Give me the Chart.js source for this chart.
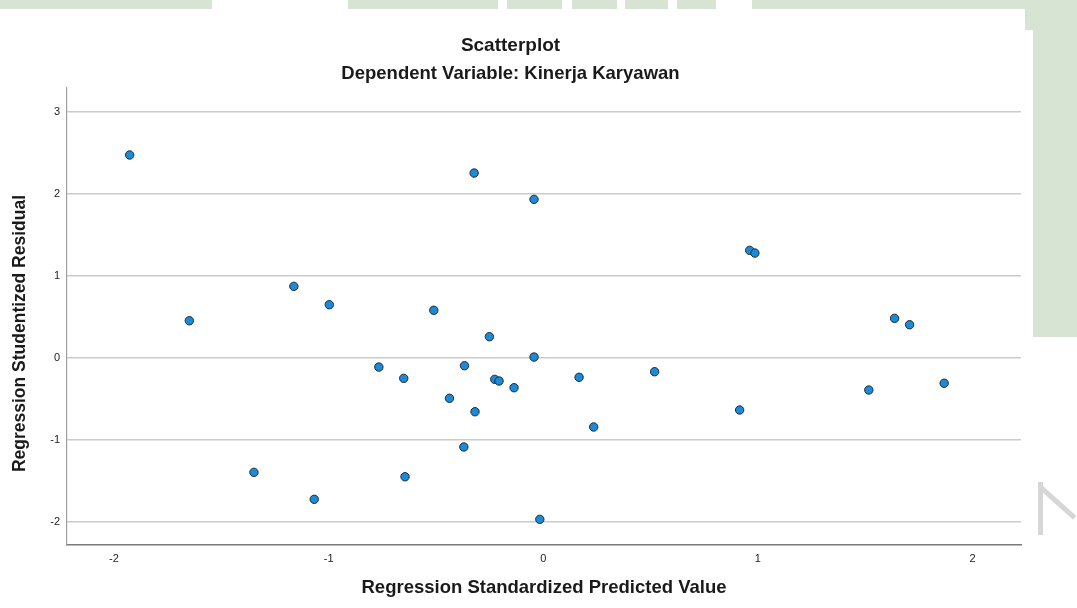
<!DOCTYPE html>
<html>
<head>
<meta charset="utf-8">
<script src="https://cdn.jsdelivr.net/npm/chart.js@4.4.0/dist/chart.umd.min.js"></script>
<style>
  html, body { margin: 0; padding: 0; background: #ffffff; }
  #wrap { position: relative; width: 1077px; height: 608px; overflow: hidden; background: #ffffff; }
  .wm { position: absolute; background: #d7e3d3; }
  .wmg { position: absolute; background: #d6d6d6; }
  canvas { position: absolute; left: 0; top: 0; }
</style>
</head>
<body>
<div id="wrap">
  <div class="wm" style="left:0;top:0;width:212px;height:9px;"></div>
  <div class="wm" style="left:348px;top:0;width:150px;height:9px;"></div>
  <div class="wm" style="left:507px;top:0;width:55px;height:9px;"></div>
  <div class="wm" style="left:572px;top:0;width:45px;height:9px;"></div>
  <div class="wm" style="left:625px;top:0;width:43px;height:9px;"></div>
  <div class="wm" style="left:677px;top:0;width:39px;height:9px;"></div>
  <div class="wm" style="left:752px;top:0;width:290px;height:9px;"></div>
  <div class="wm" style="left:1025px;top:0;width:52px;height:30px;"></div>
  <div class="wm" style="left:1033px;top:0;width:44px;height:337px;"></div>
  <div class="wmg" style="left:1038px;top:482px;width:5px;height:53px;"></div>
  <div class="wmg" style="left:1043px;top:486px;width:45px;height:5px;transform:rotate(42deg);transform-origin:0 0;"></div>
  <canvas id="c" width="1077" height="608"></canvas>
</div>
<script>
// ---- data ----
const predictedValues = [
  -1.927, -1.649, -1.348, -1.162, -1.067, -0.997, -0.766, -0.650,
  -0.644, -0.510, -0.437, -0.367, -0.370, -0.318, -0.322, -0.251,
  -0.226, -0.206, -0.136, -0.043, -0.043, -0.016, 0.167, 0.235,
  0.519, 0.962, 0.986, 0.915, 1.517, 1.637, 1.707, 1.868
];
const studentizedResiduals = [
  2.476, 0.455, -1.394, 0.874, -1.723, 0.650, -0.110, -0.248,
  -1.448, 0.582, -0.491, -0.094, -1.085, -0.655, 2.256, 0.260,
  -0.260, -0.280, -0.362, 1.935, 0.012, -1.967, -0.235, -0.841,
  -0.167, 1.313, 1.280, -0.634, -0.390, 0.484, 0.406, -0.307
];
const xTicks = [-2, -1, 0, 1, 2];
const yTicks = [-2, -1, 0, 1, 2, 3];
const chartTitle = 'Scatterplot';
const chartSubtitle = 'Dependent Variable: Kinerja Karyawan';
const xTitle = 'Regression Standardized Predicted Value';
const yTitle = 'Regression Studentized Residual';

const points = predictedValues.map((x, i) => ({ x: x, y: studentizedResiduals[i] }));
const FONT = 'Arial, "Liberation Sans", sans-serif';

new Chart(document.getElementById('c'), {
  type: 'scatter',
  data: {
    datasets: [{
      data: points,
      pointRadius: 4.2,
      pointHoverRadius: 4.2,
      pointBackgroundColor: '#1b8ad9',
      pointBorderColor: '#1d2a36',
      pointBorderWidth: 1
    }]
  },
  options: {
    responsive: false,
    animation: false,
    events: [],
    layout: { padding: { left: 0, right: 56, top: 0, bottom: 0 } },
    plugins: {
      legend: { display: false },
      tooltip: { enabled: false },
      title: {
        display: true, text: chartTitle, color: '#1a1a1a',
        font: { family: FONT, size: 19, weight: 'bold', lineHeight: 1.2 },
        padding: { top: 34.6, bottom: 0 }
      },
      subtitle: {
        display: true, text: chartSubtitle, color: '#1a1a1a',
        font: { family: FONT, size: 18.5, weight: 'bold', lineHeight: 1.2 },
        padding: { top: 5.5, bottom: 2.9 }
      }
    },
    scales: {
      x: {
        type: 'linear', min: -2.219, max: 2.226,
        afterFit(scale) { scale.height = 63; },
        afterBuildTicks(scale) { scale.ticks = xTicks.map(v => ({ value: v })); },
        grid: { display: false, drawTicks: false },
        border: { display: true, color: '#7a7a7a', width: 1.5 },
        ticks: { color: '#222', padding: 7, font: { family: FONT, size: 11 }, maxRotation: 0 },
        title: {
          display: true, text: xTitle, color: '#1a1a1a',
          font: { family: FONT, size: 18.5, weight: 'bold', lineHeight: 1.2 },
          padding: { top: 0, bottom: 8.9 }
        }
      },
      y: {
        type: 'linear', min: -2.28, max: 3.293,
        afterFit(scale) { scale.width = 67; },
        afterBuildTicks(scale) { scale.ticks = yTicks.map(v => ({ value: v })); },
        grid: { display: true, drawTicks: false, color: '#cbcbcb', lineWidth: 1.6 },
        border: { display: true, color: '#a0a0a0', width: 1.2 },
        ticks: { color: '#222', padding: 7, font: { family: FONT, size: 11 } },
        title: {
          display: true, text: yTitle + '       ', color: '#1a1a1a',
          font: { family: FONT, size: 17.5, weight: 'bold', lineHeight: 1.2 },
          padding: { top: 9.5, bottom: 0 }
        }
      }
    }
  }
});
</script>
</body>
</html>
